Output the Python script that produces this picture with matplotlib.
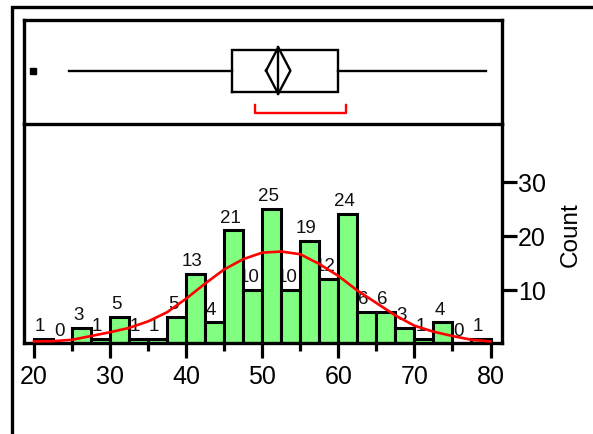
import matplotlib
matplotlib.use("Agg")
import matplotlib.pyplot as plt
from matplotlib.lines import Line2D
import numpy as np

plt.rcParams['font.family'] = ['Liberation Sans', 'DejaVu Sans']

# ---- data ----
bin_edges = [20 + 2.5 * i for i in range(25)]
counts = [1, 0, 3, 1, 5, 1, 1, 5, 13, 4, 21, 10, 25, 10, 19, 12, 24, 6, 6, 3, 1, 4, 0, 1]
curve_x = [20, 22.5, 25, 27.5, 30, 32.5, 35, 37.5, 40, 42.5, 45, 47.5, 50, 52.5,
           55, 57.5, 60, 62.5, 65, 67.5, 70, 72.5, 75, 77.5, 80]
curve_y = [0.5, 0.55, 0.8, 1.5, 2.2, 3.0, 4.2, 5.9, 8.4, 11.2, 13.8, 15.7, 16.9, 17.1,
           16.6, 14.8, 12.6, 9.9, 7.6, 5.3, 3.4, 2.3, 1.5, 0.8, 0.5]
# box plot summary
whisker_lo, q1, median, q3, whisker_hi = 24.6, 46.0, 52.1, 60.0, 79.4
mean, mean_ci_lo, mean_ci_hi = 52.1, 50.5, 53.7
outliers = [19.9]
shortest_half = (49.0, 61.0)
x_major = [20, 30, 40, 50, 60, 70, 80]
x_minor = [25, 35, 45, 55, 65, 75]
y_ticks = [10, 20, 30]

W, H = 593, 435
fig = plt.figure(figsize=(W / 100, H / 100), dpi=100)

def fx(px):
    return px / W

def fy(py):
    return 1 - py / H

L, R = 23.5, 502
top_box, mid, bot = 20.7, 125, 343.5
ax = fig.add_axes([fx(L), fy(bot), fx(R) - fx(L), fy(mid) - fy(bot)])
ax_box = fig.add_axes([fx(L), fy(mid), fx(R) - fx(L), fy(top_box) - fy(mid)])
ax_box.set_zorder(3)
ax_box.patch.set_alpha(0)

xlim = (18.62, 81.51)
spine_lw = 2.4

# ---- histogram ----
widths = [bin_edges[i + 1] - bin_edges[i] for i in range(len(counts))]
ax.bar(bin_edges[:-1], counts, width=widths, align='edge', color='#80FF80',
       edgecolor='black', linewidth=2.2, zorder=2)
for left, w, c in zip(bin_edges[:-1], widths, counts):
    ax.annotate(str(c), (left + w / 2 - 0.45, c), xytext=(0, 3.5),
                textcoords='offset points', ha='center', va='bottom',
                fontsize=13.5, color='#111111', zorder=1, annotation_clip=False)
ax.plot(curve_x, curve_y, color='red', lw=1.9, zorder=3)

ax.set_xlim(*xlim)
ax.set_ylim(0.3, 40.66)
ax.spines['top'].set_visible(False)
for s in ['left', 'bottom', 'right']:
    ax.spines[s].set_linewidth(spine_lw)
ax.set_xticks(x_major)
ax.set_xticks(x_minor, minor=True)
ax.tick_params(axis='x', which='major', length=10.5, width=2.3, labelsize=18, pad=5,
               direction='out')
ax.tick_params(axis='x', which='minor', length=5.5, width=2.3, direction='out')
ax.yaxis.tick_right()
ax.yaxis.set_label_position('right')
ax.set_yticks(y_ticks)
ax.tick_params(axis='y', which='major', length=10.5, width=2.3, labelsize=18, pad=1,
               direction='out')
ax.tick_params(axis='y', which='minor', length=0)
ax.set_ylabel('Count', fontsize=17.5, labelpad=10)

# ---- box plot ----
ax_box.set_xlim(*xlim)
ax_box.set_ylim(0, 1)
ax_box.set_xticks([])
ax_box.set_yticks([])
for s in ax_box.spines.values():
    s.set_linewidth(spine_lw)

yc = 0.511
b_lo, b_hi = 0.31, 0.71
ax_box.plot([whisker_lo, q1], [yc, yc], color='black', lw=1.7)
ax_box.plot([q3, whisker_hi], [yc, yc], color='black', lw=1.7)
ax_box.plot([q1, q3, q3, q1, q1], [b_lo, b_lo, b_hi, b_hi, b_lo], color='black',
            lw=1.7, solid_joinstyle='miter')
ax_box.plot([median, median], [0.29, 0.735], color='black', lw=1.7)
ax_box.plot([mean_ci_lo, mean, mean_ci_hi, mean, mean_ci_lo],
            [yc, 0.735, yc, 0.29, yc], color='black', lw=1.7)
ax_box.plot(outliers, [yc] * len(outliers), marker='s', ms=4.5, color='black', ls='none')
ax_box.plot([shortest_half[0], shortest_half[0], shortest_half[1], shortest_half[1]],
            [0.185, 0.105, 0.105, 0.185], color='red', lw=1.7)

# ---- outer frame ----
fig.add_artist(Line2D([fx(11.7), fx(11.7), 1.0], [0.0, fy(8.3), fy(8.3)],
                      transform=fig.transFigure, color='black', lw=2.4,
                      solid_joinstyle='miter'))

fig.savefig('out.png', dpi=100)
